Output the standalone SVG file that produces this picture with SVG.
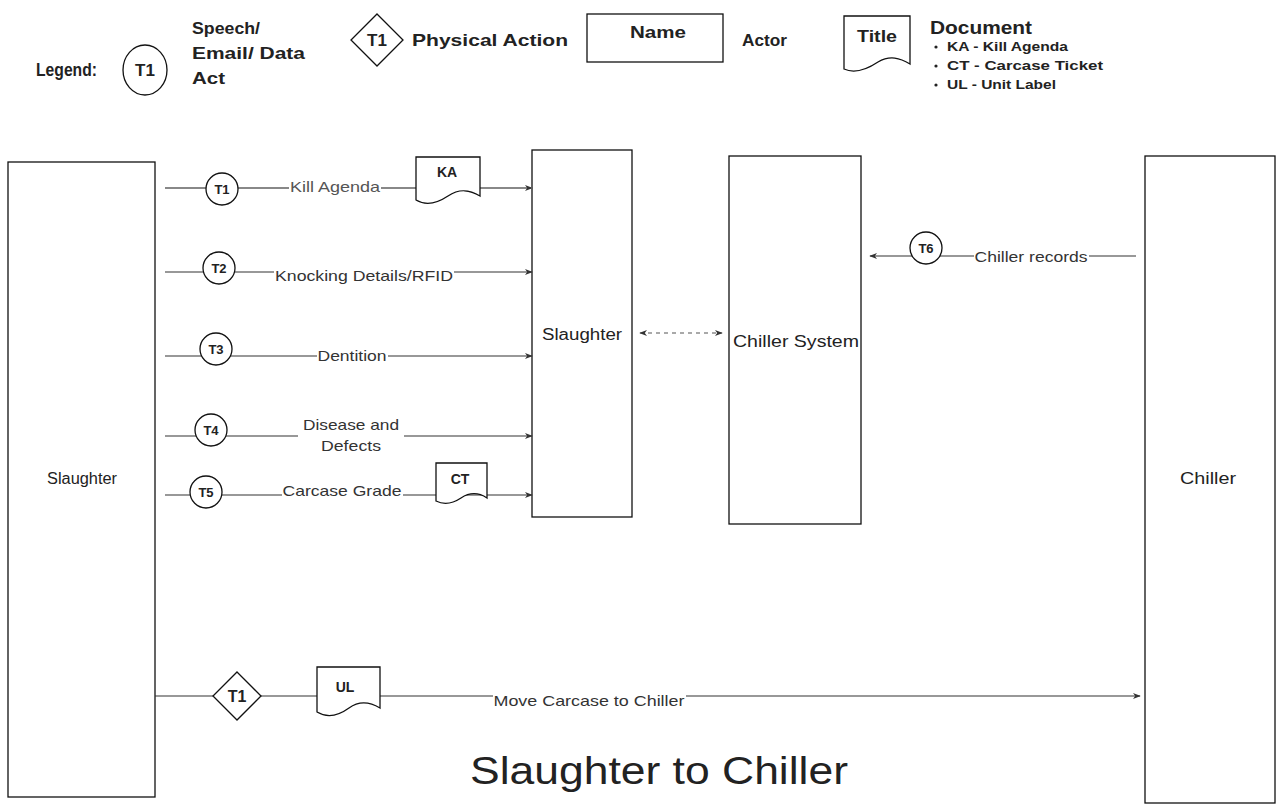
<svg xmlns="http://www.w3.org/2000/svg" width="1276" height="812" viewBox="0 0 1276 812">
<defs>
<style>
text{font-family:"Liberation Sans",Arial,sans-serif;fill:#222}
.b{font-weight:bold}
.leg{font-size:17px;font-weight:bold}
.lbl{font-size:15px;fill:#333}
.node{fill:#fff;stroke:#111;stroke-width:1.3}
.act{fill:#fff;stroke:#111;stroke-width:1.3}
.ln{fill:none;stroke:#333;stroke-width:1.2}
.ctr{text-anchor:middle}
</style>
<marker id="ah" viewBox="0 0 10 10" refX="9" refY="5" markerWidth="8" markerHeight="8" orient="auto-start-reverse" markerUnits="userSpaceOnUse"><path d="M0,1 L10,5 L0,9 L3,5 Z" fill="#333"/></marker>
</defs>
<rect width="1276" height="812" fill="#fff"/>

<g id="legend">
<text x="36" y="76" class="b" style="font-size:18px" textLength="61" lengthAdjust="spacingAndGlyphs">Legend:</text>
<ellipse cx="145" cy="70" rx="22" ry="25" class="act"/>
<text x="145" y="76" class="leg ctr">T1</text>
<text x="192" y="34" class="leg" textLength="68" lengthAdjust="spacingAndGlyphs">Speech/</text>
<text x="192" y="59" class="leg" textLength="113" lengthAdjust="spacingAndGlyphs">Email/ Data</text>
<text x="192" y="84" class="leg" textLength="33" lengthAdjust="spacingAndGlyphs">Act</text>
<path d="M377,14 L403,40 L377,66 L351,40 Z" class="act"/>
<text x="377" y="46" class="leg ctr">T1</text>
<text x="412" y="46" class="leg" textLength="156" lengthAdjust="spacingAndGlyphs">Physical Action</text>
<rect x="587" y="14" width="136" height="48" class="act"/>
<text x="658" y="38" class="leg ctr" textLength="56" lengthAdjust="spacingAndGlyphs">Name</text>
<text x="742" y="46" class="leg" textLength="45" lengthAdjust="spacingAndGlyphs">Actor</text>
<path d="M844,16 L910,16 L910,64 C900,58 890,55 878,62 C866,70 855,74 844,69 Z" class="act"/>
<text x="877" y="42" class="leg ctr" textLength="40" lengthAdjust="spacingAndGlyphs">Title</text>
<text x="930" y="34" style="font-size:18px" class="b" textLength="102" lengthAdjust="spacingAndGlyphs">Document</text>
<g style="font-size:13px;font-weight:bold">
<circle cx="936" cy="47" r="1.6" fill="#222"/><text x="947" y="51" textLength="121" lengthAdjust="spacingAndGlyphs">KA - Kill Agenda</text>
<circle cx="936" cy="66" r="1.6" fill="#222"/><text x="947" y="70" textLength="156" lengthAdjust="spacingAndGlyphs">CT - Carcase Ticket</text>
<circle cx="936" cy="85" r="1.6" fill="#222"/><text x="947" y="89" textLength="109" lengthAdjust="spacingAndGlyphs">UL - Unit Label</text>
</g>
</g>

<g id="slaughter-left">
<rect x="8" y="162" width="147" height="635" class="node"/>
<text x="82" y="484" class="ctr" style="font-size:16px" textLength="70" lengthAdjust="spacingAndGlyphs">Slaughter</text>
</g>
<g id="slaughter-mid">
<rect x="532" y="150" width="100" height="367" class="node"/>
<text x="582" y="340" class="ctr" style="font-size:16px" textLength="80" lengthAdjust="spacingAndGlyphs">Slaughter</text>
</g>
<g id="chiller-system">
<rect x="729" y="156" width="132" height="368" class="node"/>
<text x="796" y="347" class="ctr" style="font-size:17px" textLength="126" lengthAdjust="spacingAndGlyphs">Chiller System</text>
</g>
<g id="chiller">
<rect x="1145" y="156" width="130" height="647" class="node"/>
<text x="1208" y="484" class="ctr" style="font-size:17px" textLength="56" lengthAdjust="spacingAndGlyphs">Chiller</text>
</g>

<g id="connectors">
<path d="M165,188 L289,188 M381,188 L532,188" class="ln" style="stroke:#888;stroke-width:2" marker-end="url(#ah)"/>
<path d="M165,272 L274,272 M454,272 L532,272" class="ln" marker-end="url(#ah)"/>
<path d="M165,356 L317,356 M388,356 L532,356" class="ln" marker-end="url(#ah)"/>
<path d="M165,436 L298,436 M404,436 L532,436" class="ln" marker-end="url(#ah)"/>
<path d="M165,495 L282,495 M403,495 L532,495" class="ln" marker-end="url(#ah)"/>
<path d="M1136,256 L1089,256 M974,256 L870,256" class="ln" marker-end="url(#ah)"/>
<path d="M640,333 L722,333" class="ln" style="stroke:#555;stroke-dasharray:4 4" marker-start="url(#ah)" marker-end="url(#ah)"/>
<path d="M155,696 L493,696 M686,696 L1140,696" class="ln" marker-end="url(#ah)"/>
<text x="335" y="192" class="lbl ctr" style="fill:#555" textLength="90" lengthAdjust="spacingAndGlyphs">Kill Agenda</text>
<text x="364" y="281" class="lbl ctr" textLength="178" lengthAdjust="spacingAndGlyphs">Knocking Details/RFID</text>
<text x="352" y="361" class="lbl ctr" textLength="69" lengthAdjust="spacingAndGlyphs">Dentition</text>
<text x="351" y="430" class="lbl ctr" textLength="96" lengthAdjust="spacingAndGlyphs">Disease and</text>
<text x="351" y="451" class="lbl ctr" textLength="60" lengthAdjust="spacingAndGlyphs">Defects</text>
<text x="342" y="496" class="lbl ctr" textLength="119" lengthAdjust="spacingAndGlyphs">Carcase Grade</text>
<text x="1031" y="262" class="lbl ctr" textLength="113" lengthAdjust="spacingAndGlyphs">Chiller records</text>
<text x="589" y="706" class="lbl ctr" textLength="191" lengthAdjust="spacingAndGlyphs">Move Carcase to Chiller</text>
</g>

<g id="t1"><circle cx="222" cy="189" r="16" class="act"/><text x="222" y="194" class="ctr b" style="font-size:13px">T1</text></g>
<g id="doc-ka"><path d="M416,157 L480,157 L480,196 C470,190 460,188 448,196 C436,204 426,206 416,200 Z" class="act"/><text x="447" y="177" class="ctr b" style="font-size:14px">KA</text></g>
<g id="t2"><circle cx="219" cy="268" r="16" class="act"/><text x="219" y="273" class="ctr b" style="font-size:13px">T2</text></g>
<g id="t3"><circle cx="216" cy="349" r="16" class="act"/><text x="216" y="354" class="ctr b" style="font-size:13px">T3</text></g>
<g id="t4"><circle cx="211" cy="430" r="16" class="act"/><text x="211" y="435" class="ctr b" style="font-size:13px">T4</text></g>
<g id="t5"><circle cx="206" cy="492" r="16" class="act"/><text x="206" y="497" class="ctr b" style="font-size:13px">T5</text></g>
<g id="doc-ct"><path d="M436,463 L487,463 L487,498 C478,492 470,492 461,498 C452,504 444,505 436,501 Z" class="act"/><text x="460" y="484" class="ctr b" style="font-size:14px">CT</text></g>
<g id="t6"><circle cx="926" cy="248" r="16" class="act"/><text x="926" y="253" class="ctr b" style="font-size:13px">T6</text></g>
<g id="pa-t1"><path d="M237,672 L261,696 L237,720 L213,696 Z" class="act"/><text x="237" y="702" class="ctr b" style="font-size:16px">T1</text></g>
<g id="doc-ul"><path d="M317,667 L380,667 L380,708 C370,702 360,700 349,708 C338,716 327,718 317,712 Z" class="act"/><text x="345" y="692" class="ctr b" style="font-size:14px">UL</text></g>

<g id="title"><text x="659" y="784" class="ctr" style="font-size:38px" textLength="378" lengthAdjust="spacingAndGlyphs">Slaughter to Chiller</text></g>
</svg>
